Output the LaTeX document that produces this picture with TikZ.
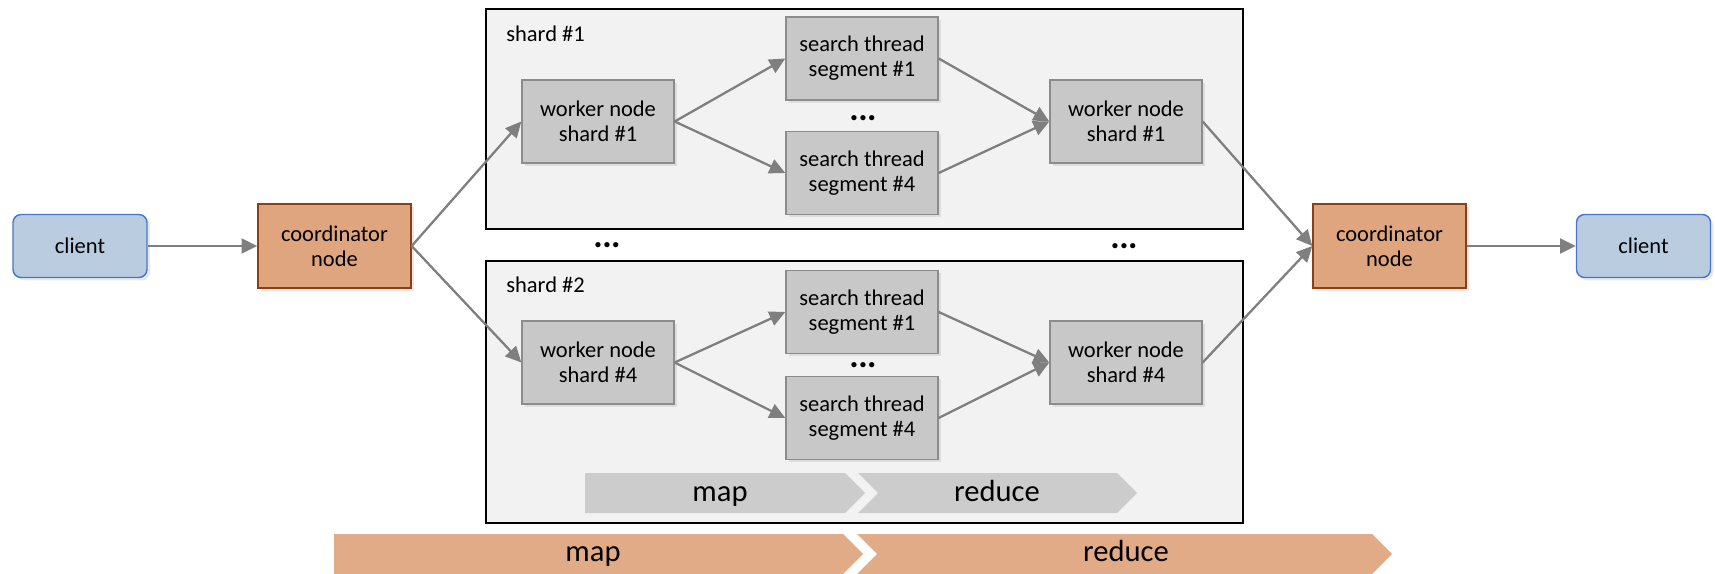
\documentclass[tikz,border=0pt]{standalone}
\usepackage{fontspec}
\setmainfont{Carlito}
\usepackage{tikz}
\usetikzlibrary{arrows.meta}
\usetikzlibrary{shadows}
\definecolor{clientfill}{RGB}{185,204,224}
\definecolor{clientline}{RGB}{72,118,204}
\definecolor{coordfill}{RGB}{222,165,127}
\definecolor{coordline}{RGB}{140,62,20}
\definecolor{workfill}{RGB}{200,200,200}
\definecolor{workline}{RGB}{140,140,140}
\definecolor{shardfill}{RGB}{242,242,242}
\definecolor{flowgray}{RGB}{127,127,127}
\definecolor{phasegray}{RGB}{204,204,204}
\definecolor{phaseorange}{RGB}{226,171,136}
\newcommand\nodefont{\fontsize{12.8}{14.2}\selectfont}
\newcommand\phasefont{\fontsize{17.4}{20}\selectfont}
\newcommand\moredots{{\fontsize{20}{20}\selectfont\bfseries .\kern-0.3pt.\kern-0.3pt.}}
\tikzset{>={Triangle[length=9pt, width=8.5pt]}}
\tikzset{flow/.style = {draw=flowgray, line width=1.3pt}}
\tikzset{box/.style = {draw, align=center, font=\nodefont, inner sep=0,
                       drop shadow={shadow xshift=1.6pt, shadow yshift=-1.6pt, opacity=0.18}}}
\tikzset{client/.style = {box, fill=clientfill, draw=clientline, line width=0.8pt,
                          rounded corners=0.16cm, minimum width=2.68cm, minimum height=1.26cm}}
\tikzset{coord/.style = {box, fill=coordfill, draw=coordline, line width=0.8pt,
                         minimum width=3.06cm, minimum height=1.68cm}}
\tikzset{work/.style = {box, fill=workfill, draw=workline, line width=0.8pt,
                        minimum width=3.04cm, minimum height=1.66cm}}
\tikzset{shardbox/.style = {draw=black, fill=shardfill, line width=1pt, inner sep=0}}
\tikzset{dots/.style = {inner sep=1pt}}

\begin{document}
\begin{tikzpicture}[x=0.02cm, y=-0.02cm]
  \useasboundingbox (0,0) rectangle (1715,574);

  % shards
  \node [shardbox, minimum width=15.14cm, minimum height=4.4cm] (shardA) at (864.5,119) {};
  \node [shardbox, minimum width=15.14cm, minimum height=5.24cm] (shardB) at (864.5,392) {};
  \node [anchor=west, font=\nodefont, inner sep=0] (labA) at (506,34) {shard \#1};
  \node [anchor=west, font=\nodefont, inner sep=0] (labB) at (506,285) {shard \#2};

  % phases
  \fill [phasegray] (585,473) -- (845,473) -- (865,493) -- (845,513) -- (585,513) -- cycle;
  \fill [phasegray] (858,473) -- (1117,473) -- (1137,493) -- (1117,513) -- (858,513) -- (878,493) -- cycle;
  \node [anchor=base, font=\phasefont] (mapin) at (720,501) {map};
  \node [anchor=base, font=\phasefont] (redin) at (997,501) {reduce};
  \fill [phaseorange] (334,534) -- (843,534) -- (863,554) -- (843,574) -- (334,574) -- cycle;
  \fill [phaseorange] (857,534) -- (1372,534) -- (1392,554) -- (1372,574) -- (857,574) -- (877,554) -- cycle;
  \node [anchor=base, font=\phasefont] (mapout) at (593,561) {map};
  \node [anchor=base, font=\phasefont] (redout) at (1126,561) {reduce};

  % nodes
  \node [client] (clientL) at (80,246) {client};
  \node [coord] (coordL) at (334.5,246) {coordinator\\node};
  \node [work] (workA) at (598,121.5) {worker node\\shard \#1};
  \node [work] (segAa) at (862,58.5) {search thread\\segment \#1};
  \node [work] (segAd) at (862,173) {search thread\\segment \#4};
  \node [work] (joinA) at (1126,121.5) {worker node\\shard \#1};
  \node [dots] (dotsA) at (863,118) {\moredots};
  \node [work] (workB) at (598,362.5) {worker node\\shard \#4};
  \node [work] (segBa) at (862,312) {search thread\\segment \#1};
  \node [work] (segBd) at (862,418) {search thread\\segment \#4};
  \node [work] (joinB) at (1126,362.5) {worker node\\shard \#4};
  \node [dots] (dotsB) at (863,365) {\moredots};
  \node [dots] (dotsL) at (607,245) {\moredots};
  \node [dots] (dotsR) at (1124,246) {\moredots};
  \node [coord] (coordR) at (1389.5,246) {coordinator\\node};
  \node [client] (clientR) at (1643.5,246) {client};

  % connectors
  \draw [flow, ->] (clientL) -- (coordL);
  \draw [flow, ->] (coordL.east) -- (workA.west);
  \draw [flow, ->] (coordL.east) -- (workB.west);
  \draw [flow, ->] (workA.east) -- (segAa.west);
  \draw [flow, ->] (workA.east) -- (segAd.west);
  \draw [flow, ->] (segAa.east) -- (joinA.west);
  \draw [flow, ->] (segAd.east) -- (joinA.west);
  \draw [flow, ->] (workB.east) -- (segBa.west);
  \draw [flow, ->] (workB.east) -- (segBd.west);
  \draw [flow, ->] (segBa.east) -- (joinB.west);
  \draw [flow, ->] (segBd.east) -- (joinB.west);
  \draw [flow, ->] (joinA.east) -- (coordR.west);
  \draw [flow, ->] (joinB.east) -- (coordR.west);
  \draw [flow, ->] (coordR) -- (clientR);
\end{tikzpicture}
\end{document}
